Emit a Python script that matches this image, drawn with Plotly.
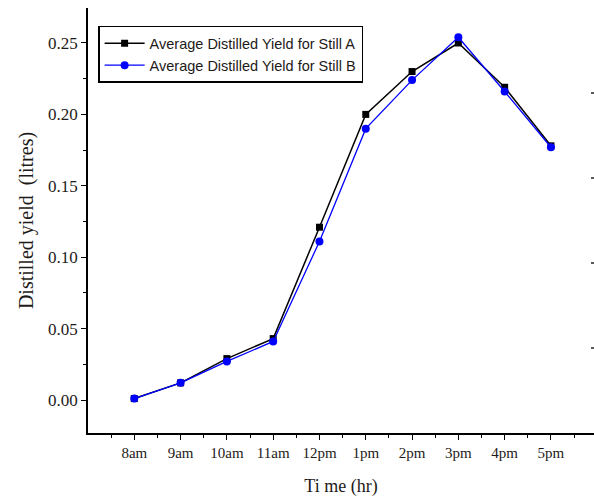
import plotly.graph_objects as go

# Hourly readings
times = ["8am", "9am", "10am", "11am", "12pm", "1pm", "2pm", "3pm", "4pm", "5pm"]
still_a = [0.001, 0.012, 0.029, 0.043, 0.121, 0.200, 0.230, 0.250, 0.219, 0.178]
still_b = [0.001, 0.012, 0.027, 0.041, 0.111, 0.190, 0.224, 0.254, 0.216, 0.177]
y_ticks = [0.00, 0.05, 0.10, 0.15, 0.20, 0.25]

pos = list(range(len(times)))
ink = "#1e1a18"
serif = "Liberation Serif, Times New Roman, serif"
sans = "Liberation Sans, Arial, sans-serif"

fig = go.Figure()
fig.add_trace(go.Scatter(
    x=pos, y=still_a, mode="lines+markers",
    name="Average Distilled Yield for Still A",
    line=dict(color="black", width=1.5),
    marker=dict(symbol="square", size=7, color="black"),
))
fig.add_trace(go.Scatter(
    x=pos, y=still_b, mode="lines+markers",
    name="Average Distilled Yield for Still B",
    line=dict(color="#0000ff", width=1.3),
    marker=dict(symbol="circle", size=8, color="#0000ff"),
))

# small inward ticks of the right-hand frame edge
for frac in (0.2, 0.4, 0.6, 0.8):
    fig.add_shape(type="line", xref="paper", yref="paper",
                  x0=0.994, x1=1.0, y0=frac, y1=frac,
                  line=dict(color="black", width=1.3))

fig.update_layout(
    width=594, height=502,
    margin=dict(l=88, r=0, t=8, b=69),
    paper_bgcolor="white", plot_bgcolor="white",
    showlegend=True,
    legend=dict(
        x=0.02, y=0.958, xanchor="left", yanchor="top",
        bgcolor="white", bordercolor="black", borderwidth=1.5,
        font=dict(family=sans, size=14.5, color=ink),
        itemwidth=40, tracegroupgap=0,
    ),
    xaxis=dict(
        range=[-1.0, 9.93], tickmode="array", tickvals=pos, ticktext=times,
        ticks="outside", ticklen=5, tickwidth=1.3, tickcolor="black",
        minor=dict(tickmode="array", tickvals=[p + 0.5 for p in range(-1, 10)],
                   ticks="outside", ticklen=3, tickwidth=1.3, tickcolor="black"),
        showline=True, linecolor="black", linewidth=1.5,
        showgrid=False, zeroline=False,
        tickfont=dict(family=serif, size=15, color=ink),
        title=dict(text="Ti me (hr)", font=dict(family=serif, size=18, color=ink), standoff=20),
    ),
    yaxis=dict(
        range=[-0.0231, 0.2745], tickmode="array", tickvals=y_ticks,
        ticktext=[f"{v:.2f}" for v in y_ticks],
        ticks="outside", ticklen=5, tickwidth=1.3, tickcolor="black",
        minor=dict(tickmode="array", tickvals=[0.025, 0.075, 0.125, 0.175, 0.225],
                   ticks="outside", ticklen=3, tickwidth=1.3, tickcolor="black"),
        showline=True, linecolor="black", linewidth=1.5,
        showgrid=False, zeroline=False,
        tickfont=dict(family=serif, size=17, color=ink),
        title=dict(text="Distilled yield  (litres)", font=dict(family=serif, size=20, color=ink), standoff=9),
    ),
    xaxis2=dict(
        overlaying="x", side="top", anchor="y", range=[0, 4.985],
        tickmode="array", tickvals=[1, 2, 3, 4], ticks="inside", ticklen=4,
        tickwidth=1.3, tickcolor="black",
        minor=dict(tickmode="array", tickvals=[0.5, 1.5, 2.5, 3.5, 4.5],
                   ticks="inside", ticklen=2, tickwidth=1.3, tickcolor="black"),
        showticklabels=False, showline=True, linecolor="black", linewidth=1.5,
        showgrid=False, zeroline=False,
    ),
)

fig.write_html("out.html")
